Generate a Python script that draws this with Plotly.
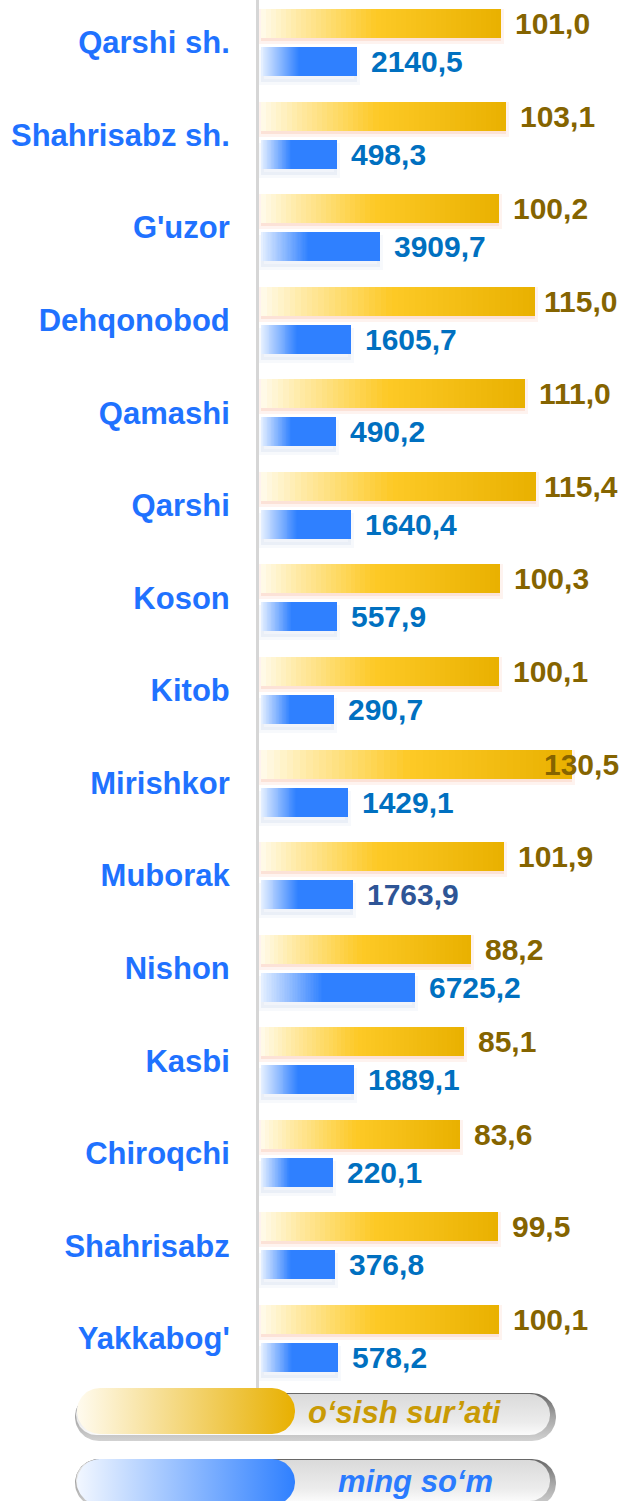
import numpy as np
import plotly.graph_objects as go

# ---- data -------------------------------------------------------------
categories = ["Qarshi sh.", "Shahrisabz sh.", "G'uzor", "Dehqonobod", "Qamashi",
              "Qarshi", "Koson", "Kitob", "Mirishkor", "Muborak", "Nishon",
              "Kasbi", "Chiroqchi", "Shahrisabz", "Yakkabog'"]
growth_pct = [101.0, 103.1, 100.2, 115.0, 111.0, 115.4, 100.3, 100.1, 130.5,
              101.9, 88.2, 85.1, 83.6, 99.5, 100.1]
output_th = [2140.5, 498.3, 3909.7, 1605.7, 490.2, 1640.4, 557.9, 290.7,
             1429.1, 1763.9, 6725.2, 1889.1, 220.1, 376.8, 578.2]
series_names = ["o\u2018sish sur\u2019ati", "ming so\u2018m"]

# ---- geometry (pixels) ------------------------------------------------
W, H = 627, 1501
PLOT_LEFT = 259          # left edge of the bar area (axis line sits just left of it)
BAR_START = 261          # where the bars begin
PLOT_BOTTOM = 1388       # bottom of the bar area; legend lives below
ROW_PX = 92.57           # distance between categories
FIRST_ROW_PX = 42.5      # centre of the first category
GOLD_PX = 2.38           # px per percentage point
BLUE_PX = 0.0126         # px per thousand so'm
BLUE_BASE = -5500        # value at which the blue bars start
GOLD_LABEL_CAP = 113     # long growth labels are kept inside the chart

half_gap = 19 / ROW_PX
BAR_W = 29 / ROW_PX
idx = np.arange(len(categories))
gold_y = idx - half_gap
blue_y = idx + half_gap

gold_range = [-(BAR_START - PLOT_LEFT) / GOLD_PX, (W - BAR_START) / GOLD_PX]
blue_range = [BLUE_BASE - (BAR_START - PLOT_LEFT) / BLUE_PX,
              BLUE_BASE + (W - BAR_START) / BLUE_PX]
y_top = -FIRST_ROW_PX / ROW_PX
y_bottom = (PLOT_BOTTOM - FIRST_ROW_PX) / ROW_PX

FONT = "Liberation Sans, Arial, sans-serif"
CAT_COLOR = "#1f72ff"
GOLD_TXT = "#856400"
BLUE_TXT = "#0070c0"

gold_stops = [(0.0, (255, 251, 236)), (0.15, (255, 234, 165)),
              (0.48, (253, 201, 38)), (1.0, (233, 176, 0))]
blue_stops = [(0.0, (230, 240, 255)), (0.40, (47, 128, 255)), (1.0, (47, 128, 255))]


def blend(stops, t):
    for (t0, c0), (t1, c1) in zip(stops[:-1], stops[1:]):
        if t <= t1:
            u = 0.0 if t1 == t0 else (t - t0) / (t1 - t0)
            c = [round(a + (b - a) * u) for a, b in zip(c0, c1)]
            return f"rgb({c[0]},{c[1]},{c[2]})"
    c = stops[-1][1]
    return f"rgb({c[0]},{c[1]},{c[2]})"


def gradient_bars(values, ypos, stops, xaxis, base, fracs, name):
    """Full bar first, then progressively shorter bars on top -> left-to-right gradient."""
    vals = np.asarray(values, dtype=float)
    out = []
    for k, frac in enumerate(fracs):
        nxt = fracs[k + 1] if k + 1 < len(fracs) else 0.0
        out.append(go.Bar(
            x=(vals - base) * frac, base=base, y=ypos, orientation="h", width=BAR_W,
            marker=dict(color=blend(stops, (frac + nxt) / 2), line=dict(width=0)),
            xaxis=xaxis, yaxis="y", name=name, showlegend=False,
            hoverinfo="skip" if k else "text",
            hovertext=[f"{c}: {v}" for c, v in zip(categories, values)],
        ))
    return out


def shadow_bar(values, ypos, base, xaxis, dy_px, rgba_fill, rgba_line, lw):
    vals = np.asarray(values, dtype=float)
    return go.Bar(
        x=vals - base, base=base, y=ypos + dy_px / ROW_PX, orientation="h", width=BAR_W,
        marker=dict(color=rgba_fill, line=dict(width=lw, color=rgba_line)),
        xaxis=xaxis, yaxis="y", showlegend=False, hoverinfo="skip",
    )


fig = go.Figure()

# soft shadows under the bars
fig.add_trace(shadow_bar(growth_pct, gold_y, 0, "x", 3, "rgba(244,160,120,0.20)",
                         "rgba(244,160,120,0.12)", 6))
fig.add_trace(shadow_bar(output_th, blue_y, BLUE_BASE, "x2", 6, "rgba(190,205,232,0.22)",
                         "rgba(190,205,232,0.12)", 6))

gold_fracs = [1 - j / 48 for j in range(48)]
blue_fracs = [1.0] + [0.42 * (1 - j / 40) for j in range(40)]
for tr in gradient_bars(growth_pct, gold_y, gold_stops, "x", 0, gold_fracs, series_names[0]):
    fig.add_trace(tr)
for tr in gradient_bars(output_th, blue_y, blue_stops, "x2", BLUE_BASE, blue_fracs,
                        series_names[1]):
    fig.add_trace(tr)


def fmt(v):
    return f"{v:.1f}".replace(".", ",")


annotations = []
for i, v in enumerate(growth_pct):
    annotations.append(dict(
        x=min(v, GOLD_LABEL_CAP), y=gold_y[i], xref="x", yref="y", text=fmt(v),
        showarrow=False, xanchor="left", yanchor="middle", xshift=12,
        font=dict(family=FONT, size=30, color=GOLD_TXT, weight="bold")))
for i, v in enumerate(output_th):
    color = "#2e5596" if categories[i] == "Muborak" else BLUE_TXT
    annotations.append(dict(
        x=v, y=blue_y[i], xref="x2", yref="y", text=fmt(v),
        showarrow=False, xanchor="left", yanchor="middle", xshift=12,
        font=dict(family=FONT, size=30, color=color, weight="bold")))


# ---- legend pills (own pixel-unit subplot under the bars) ---------------
def pill(x0, x1, y0, y1, n=40):
    r = (y1 - y0) / 2.0
    yc = (y0 + y1) / 2.0
    a_right = np.linspace(-np.pi / 2, np.pi / 2, n)
    a_left = np.linspace(np.pi / 2, 3 * np.pi / 2, n)
    xs = np.concatenate([x1 - r + r * np.cos(a_right), x0 + r + r * np.cos(a_left)])
    ys = np.concatenate([yc + r * np.sin(a_right), yc + r * np.sin(a_left)])
    return np.append(xs, xs[0]), np.append(ys, ys[0])


def pill_trace(x0, x1, y0, y1, gtype, scale):
    xs, ys = pill(x0, x1, y0, y1)
    return go.Scatter(x=xs, y=ys, mode="lines", fill="toself", line=dict(width=0),
                      fillgradient=dict(type=gtype, colorscale=scale),
                      xaxis="x3", yaxis="y3", hoverinfo="skip", showlegend=False)


rim_scale = [[0, "#d2d2d2"], [0.5, "#a6a6a6"], [1, "#666666"]]
body_scale = [[0, "#fbfbfb"], [0.3, "#ececec"], [1, "#dadada"]]
legend_rows = [
    (1393, 1388, [[0, "#fffbef"], [1, "#e8b000"]]),
    (1459, 1459, [[0, "#f2f7ff"], [1, "#2f80ff"]]),
]
for top, ctop, cscale in legend_rows:
    fig.add_trace(pill_trace(75, 556, top, top + 48, "vertical", rim_scale))
    fig.add_trace(pill_trace(76, 550, top + 1, top + 42, "vertical", body_scale))
    fig.add_trace(pill_trace(77, 295, ctop, ctop + 46, "horizontal", cscale))

annotations.append(dict(x=405, y=1412, xref="x3", yref="y3", text=series_names[0],
                         showarrow=False, xanchor="center", yanchor="middle",
                         font=dict(family=FONT, size=31, color="#c99a05",
                                   weight="bold", style="italic")))
annotations.append(dict(x=415, y=1481, xref="x3", yref="y3", text=series_names[1],
                         showarrow=False, xanchor="center", yanchor="middle",
                         font=dict(family=FONT, size=31, color="#2a7bff",
                                   weight="bold", style="italic")))

legend_frac = (H - PLOT_BOTTOM) / H
hidden = dict(visible=False, showgrid=False, zeroline=False, fixedrange=True)

fig.update_layout(
    width=W, height=H,
    margin=dict(l=0, r=0, t=0, b=0),
    paper_bgcolor="white", plot_bgcolor="rgba(0,0,0,0)",
    barmode="overlay", bargap=0, showlegend=False,
    xaxis=dict(domain=[PLOT_LEFT / W, 1], range=gold_range, anchor="y", **hidden),
    xaxis2=dict(domain=[PLOT_LEFT / W, 1], range=blue_range, overlaying="x",
                anchor="y", **hidden),
    yaxis=dict(domain=[legend_frac, 1], range=[y_bottom, y_top], anchor="x",
               tickmode="array", tickvals=idx.tolist(), ticktext=categories,
               ticks="", ticklabelstandoff=20, showgrid=False, zeroline=False,
               showline=True, linecolor="#d6d6d6", linewidth=3,
               tickfont=dict(family=FONT, size=31, color=CAT_COLOR, weight="bold"),
               fixedrange=True),
    xaxis3=dict(domain=[0, 1], range=[0, W], anchor="y3", **hidden),
    yaxis3=dict(domain=[0, legend_frac], range=[H, PLOT_BOTTOM], anchor="x3", **hidden),
    annotations=annotations,
)

fig.write_html("out.html")
